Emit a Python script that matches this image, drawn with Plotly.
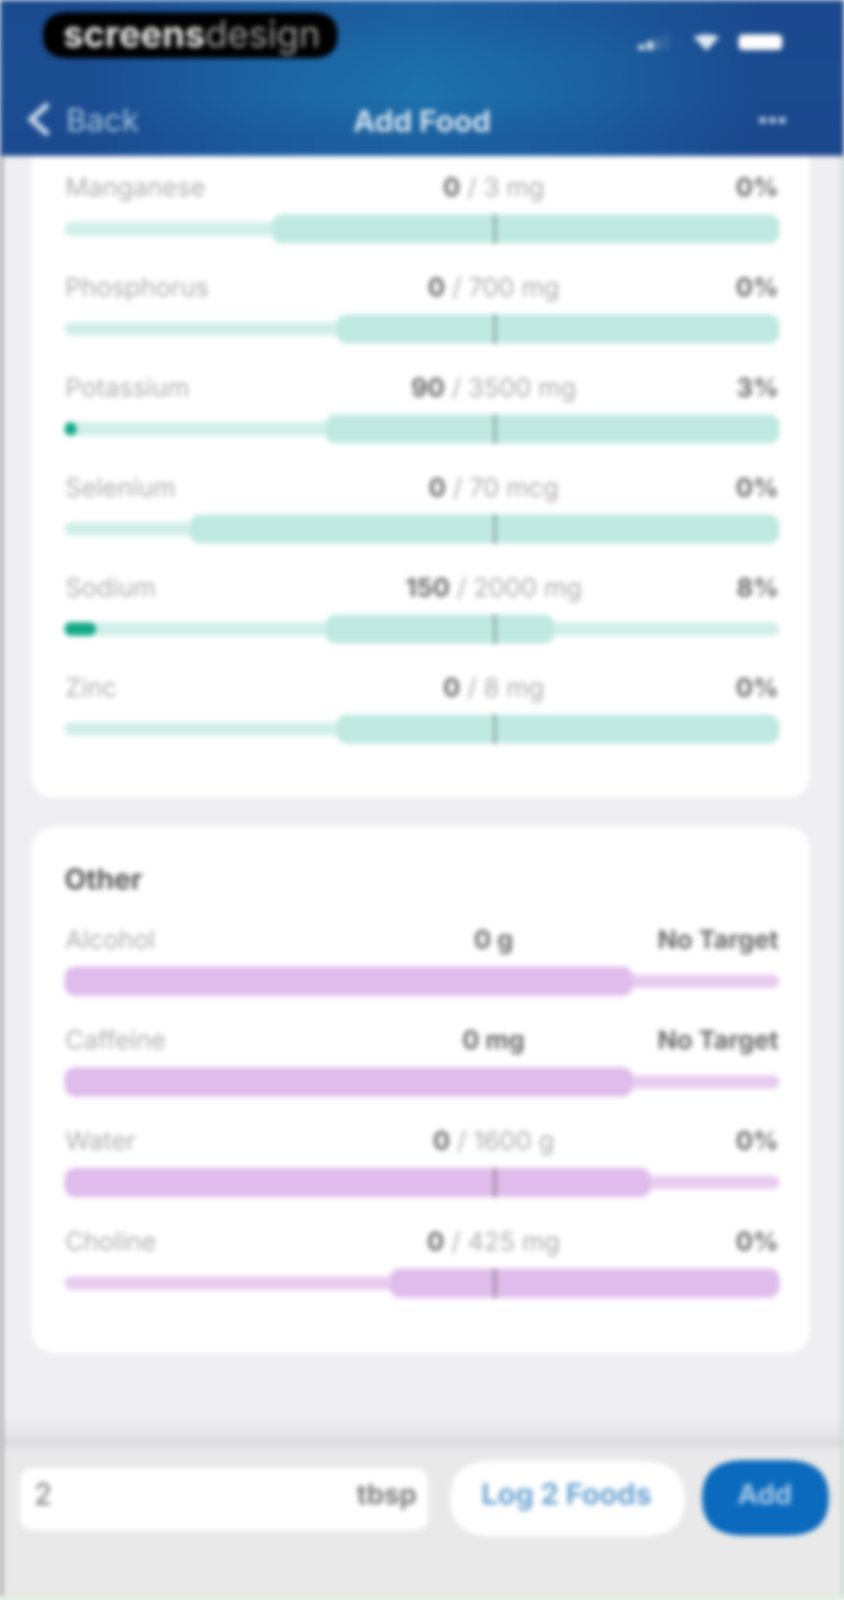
#!/usr/bin/env python3
"""Add Food nutrient targets screen, redrawn with Plotly bars."""

import plotly.graph_objects as go

W, H = 2160, 4670     # reference size; everything below is laid out against it

# ── data ────────────────────────────────────────────────────────────────────
minerals = ["Manganese", "Phosphorus", "Potassium", "Selenium", "Sodium", "Zinc"]
mineral_amount = ["0", "0", "90", "0", "150", "0"]
mineral_target = ["3 mg", "700 mg", "3500 mg", "70 mcg", "2000 mg", "8 mg"]
mineral_pct = ["0%", "0%", "3%", "0%", "8%", "0%"]
mineral_fill = [0, 0, 1.7, 0, 4.4, 0]
mineral_band_lo = [29, 38, 36.5, 17.5, 36.5, 38]
mineral_band_hi = [100, 100, 100, 100, 68.5, 100]

other = ["Alcohol", "Caffeine", "Water", "Choline"]
other_amount = ["0 g", "0 mg", "0", "0"]
other_target = [None, None, "1600 g", "425 mg"]
other_pct = ["No Target", "No Target", "0%", "0%"]
other_band_lo = [0, 0, 0, 45.5]
other_band_hi = [79.5, 79.5, 82, 100]

target_mark = 60     # the dark tick sits here on every row that has a target

header_glow = [
    [0.10, 0.42, 0.62, 0.40, 0.05],
    [0.15, 0.62, 0.90, 0.60, 0.08],
    [0.15, 0.65, 1.00, 0.62, 0.08],
    [0.10, 0.45, 0.62, 0.45, 0.02],
]

# ── colours ─────────────────────────────────────────────────────────────────
PAGE = "#eeeef3"
NAME_GREY = "#adadad"
BOLD_GREY = "#696969"
SOFT_GREY = "#aaaaaa"
GREEN_THIN, GREEN_BAND, GREEN_FILL = "#d0efe8", "#c0eae1", "#12a987"
PURPLE_THIN, PURPLE_BAND = "#e8ccef", "#dfbceb"
BLUE = "#0b6abd"


def py(y):
    """Screen pixel row to paper fraction."""
    return 1 - y / H


def px(x):
    return x / W


def rounded(x0, y0, x1, y1, r):
    """SVG path of a rounded box, in paper fractions."""
    rx, ry = r / W, r / H
    a, b, c, d = px(x0), px(x1), py(y0), py(y1)
    return (
        f"M{a + rx},{c} L{b - rx},{c} Q{b},{c} {b},{c - ry} "
        f"L{b},{d + ry} Q{b},{d} {b - rx},{d} "
        f"L{a + rx},{d} Q{a},{d} {a},{d + ry} "
        f"L{a},{c - ry} Q{a},{c} {a + rx},{c} Z"
    )


def box(x0, y0, x1, y1, color, r=0, layer="below", opacity=1):
    if r:
        return dict(type="path", path=rounded(x0, y0, x1, y1, r), xref="paper", yref="paper",
                    fillcolor=color, line_width=0, layer=layer, opacity=opacity)
    return dict(type="rect", x0=px(x0), x1=px(x1), y0=py(y0), y1=py(y1), xref="paper", yref="paper",
                fillcolor=color, line_width=0, layer=layer, opacity=opacity)


def label(text, x, y, size=66, color=NAME_GREY, anchor="center"):
    return dict(text=text, x=px(x), y=py(y), xref="paper", yref="paper", showarrow=False,
                xanchor=anchor, yanchor="middle", font=dict(family="Inter", size=size, color=color))


# ── panels ──────────────────────────────────────────────────────────────────
fig = go.Figure()


def add_panel(names, band_lo, band_hi, thin_color, band_color, xaxis, yaxis):
    common = dict(y=names, orientation="h", xaxis=xaxis, yaxis=yaxis, hoverinfo="skip", showlegend=False)
    fig.add_trace(go.Bar(x=[100] * len(names), base=[0] * len(names), width=0.135,
                         marker=dict(color=thin_color, cornerradius=18), **common))
    fig.add_trace(go.Bar(x=[h - l for l, h in zip(band_lo, band_hi)], base=band_lo, width=0.29,
                         marker=dict(color=band_color, cornerradius=26), **common))


add_panel(minerals, mineral_band_lo, mineral_band_hi, GREEN_THIN, GREEN_BAND, "x", "y")
add_panel(other, other_band_lo, other_band_hi, PURPLE_THIN, PURPLE_BAND, "x2", "y2")

fig.add_trace(go.Bar(x=mineral_fill, base=[0] * len(minerals), y=minerals, orientation="h", width=0.135,
                     xaxis="x", yaxis="y", marker=dict(color=GREEN_FILL, cornerradius=15),
                     hoverinfo="skip", showlegend=False))
fig.add_trace(go.Bar(x=[0.38] * len(minerals), base=[target_mark] * len(minerals), y=minerals,
                     orientation="h", width=0.3, xaxis="x", yaxis="y",
                     marker_color="#7f9a94", hoverinfo="skip", showlegend=False))
ticked = [n for n, t in zip(other, other_target) if t]
fig.add_trace(go.Bar(x=[0.38] * len(ticked), base=[target_mark] * len(ticked), y=ticked,
                     orientation="h", width=0.3, xaxis="x2", yaxis="y2",
                     marker_color="#8d7c94", hoverinfo="skip", showlegend=False))

fig.add_trace(go.Heatmap(z=header_glow, xaxis="x3", yaxis="y3", zsmooth="best", showscale=False,
                         hoverinfo="skip", zmin=0, zmax=1,
                         colorscale=[[0, "#1b468c"], [1, "#1c72ad"]]))

# ── row labels ──────────────────────────────────────────────────────────────
annotations = []
LABEL_LIFT = 0.418   # labels sit this many rows above their track


def row_labels(names, amounts, targets, pcts, xref, yref):
    for i, (name, amount, target, pct) in enumerate(zip(names, amounts, targets, pcts)):
        base = dict(xref=xref, yref=yref, y=i - LABEL_LIFT, showarrow=False, yanchor="middle")
        font = dict(family="Inter", size=65)
        annotations.append(dict(base, x=0, text=name, xanchor="left", font=dict(font, color=NAME_GREY)))
        value = f"<b>{amount}</b>"
        if target:
            value += f"<span style='color:{SOFT_GREY}'> / {target}</span>"
        annotations.append(dict(base, x=target_mark, text=value, xanchor="center", font=dict(font, color=BOLD_GREY)))
        annotations.append(dict(base, x=100, text=f"<b>{pct}</b>", xanchor="right", font=dict(font, color=BOLD_GREY)))


row_labels(minerals, mineral_amount, mineral_target, mineral_pct, "x", "y")
row_labels(other, other_amount, other_target, other_pct, "x2", "y2")

annotations += [
    label("<b>Other</b>", 163, 2565, size=72, color="#555555", anchor="left"),
    label("<b>screens</b><span style='color:#9a9a9a'>design</span>", 160, 98, size=93, color="#e8e8e8", anchor="left"),
    label("Back", 167, 350, size=80, color="#a6c3df", anchor="left"),
    label("<b>Add Food</b>", 1080, 352, size=76, color="#d6e4f1"),
    label("2", 85, 4360, size=76, color="#707070", anchor="left"),
    label("<b>tbsp</b>", 1068, 4360, size=70, color="#7c7c7c", anchor="right"),
    label("<b>Log 2 Foods</b>", 1450, 4360, size=74, color="#6aa3d1"),
    label("<b>Add</b>", 1957, 4360, size=70, color="#a9cbe8"),
]

# ── screen chrome ───────────────────────────────────────────────────────────
shapes = [
    box(0, 0, W, H, PAGE),
    box(80, 300, 2073, 2330, "#ffffff", r=70),
    box(80, 2413, 2073, 3950, "#ffffff", r=70),
    # footer with its soft shadow
    box(0, 4145, W, 4175, "#dedee3", opacity=0.25),
    box(0, 4175, W, 4200, "#dedee3", opacity=0.6),
    box(0, 4200, W, 4225, "#dcdce1"),
    box(0, 4225, W, H, "#e9e9e9"),
    box(52, 4285, 1095, 4466, "#ffffff", r=36),
    box(1152, 4265, 1752, 4484, "#ffffff", r=108),
    box(1797, 4262, 2121, 4482, BLUE, r=108),
    # outer edges of the photo
    box(0, 455, 7, H, "#8f8f92", layer="above"),
    box(2155, 455, W, H, "#a9c4ae", layer="above"),
    box(0, 4658, W, H, "#dff0dc", layer="above"),
    # header furniture
    box(110, 36, 864, 170, "#000000", r=66, layer="above"),
    box(1890, 100, 2002, 146, "#ffffff", r=14, layer="above"),
    box(1634, 130, 1650, 146, "#ffffff", layer="above", opacity=0.85),
    box(1656, 120, 1672, 146, "#ffffff", layer="above", opacity=0.85),
    box(1678, 110, 1692, 146, "#ffffff", layer="above", opacity=0.2),
    box(1700, 100, 1712, 146, "#ffffff", layer="above", opacity=0.12),
    dict(type="path", xref="paper", yref="paper", layer="above", fillcolor="#dfe9f3", line_width=0,
         path=f"M{px(1775)},{py(108)} Q{px(1808)},{py(92)} {px(1841)},{py(108)} L{px(1808)},{py(148)} Z"),
    dict(type="path", xref="paper", yref="paper", layer="above", fillcolor="rgba(0,0,0,0)",
         line=dict(color="#c6d7ea", width=15),
         path=f"M{px(123)},{py(304)} L{px(80)},{py(348)} L{px(123)},{py(392)}"),
]
for dot_x in (1952, 1977, 2002):
    shapes.append(dict(type="circle", xref="paper", yref="paper", layer="above", fillcolor="#cddcec", line_width=0,
                       x0=px(dot_x - 9), x1=px(dot_x + 9), y0=py(360), y1=py(342)))

track = [px(165), px(1995)]
hidden = dict(visible=False, fixedrange=True)

# no fixed size: the browser window here stops at 4096 px tall, so the figure
# fills whatever window it gets and the whole screen stays in the picture
fig.update_layout(
    margin=dict(l=0, r=0, t=0, b=0),
    paper_bgcolor=PAGE,
    plot_bgcolor="rgba(0,0,0,0)",
    barmode="overlay",
    shapes=shapes,
    annotations=annotations,
    xaxis=dict(hidden, domain=track, range=[0, 100]),
    yaxis=dict(hidden, domain=[py(2274), py(522)], type="category", categoryorder="array",
               categoryarray=minerals, range=[5.5, -0.5]),
    xaxis2=dict(hidden, domain=track, range=[0, 100], anchor="y2"),
    yaxis2=dict(hidden, domain=[py(3892), py(2717)], type="category", categoryorder="array",
                categoryarray=other, range=[3.5, -0.5], anchor="x2"),
    xaxis3=dict(hidden, domain=[0, 1], anchor="y3", range=[-0.5, 4.5]),
    yaxis3=dict(hidden, domain=[py(455), 1], anchor="x3", range=[3.5, -0.5]),
)

page_script = (
    "document.body.style.margin='0';"
    "document.body.style.overflow='hidden';"
    f"document.body.style.background='{PAGE}';"
    "document.getElementById('{plot_id}').style.filter='blur(7px)';"
)
fig.write_html("out.html", post_script=page_script, default_width="100vw", default_height="100vh",
               config=dict(displayModeBar=False))
